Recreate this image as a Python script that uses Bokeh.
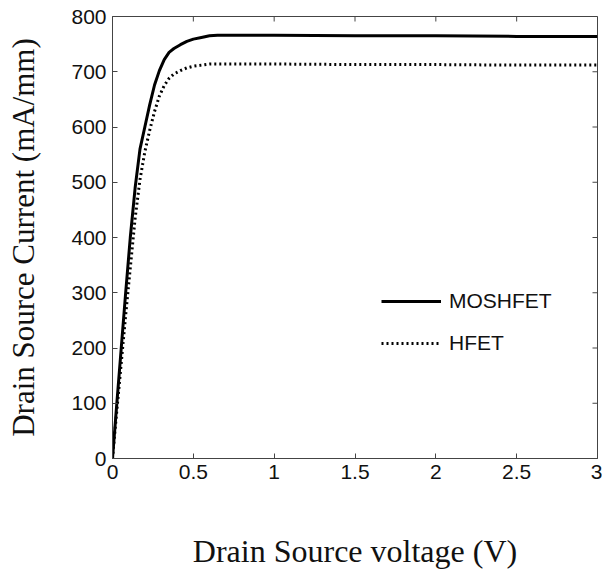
from bokeh.plotting import figure
from bokeh.models import (LinearAxis, FixedTicker, NumeralTickFormatter, Legend,
                          LegendItem)
from bokeh.embed import file_html
from bokeh.resources import INLINE

# Data
v_mos = [0, 0.02, 0.05, 0.08, 0.11, 0.14, 0.17, 0.20, 0.23, 0.26, 0.29, 0.32, 0.35,
         0.38, 0.42, 0.46, 0.50, 0.55, 0.60, 0.65, 0.70, 1.0, 1.5, 2.0, 2.5, 3.0]
i_mos = [0, 75, 185, 295, 400, 490, 560, 600, 640, 676, 702, 722, 735,
         742, 749, 755, 759, 762, 765, 766, 766, 766, 765, 765, 764, 764]
v_hfet = [0, 0.02, 0.05, 0.08, 0.11, 0.14, 0.17, 0.20, 0.23, 0.26, 0.29, 0.32, 0.35,
          0.38, 0.42, 0.46, 0.50, 0.55, 0.60, 0.65, 0.70, 1.0, 1.5, 2.0, 2.5, 3.0]
i_hfet = [0, 65, 160, 255, 345, 435, 505, 555, 594, 628, 656, 675, 688,
          696, 702, 707, 710, 712, 714, 714, 714, 714, 713, 713, 712, 712]
x_ticks = [0, 0.5, 1, 1.5, 2, 2.5, 3]
y_ticks = [0, 100, 200, 300, 400, 500, 600, 700, 800]
series_names = ["MOSHFET", "HFET"]
x_title = "Drain Source voltage (V)"
y_title = "Drain Source Current (mA/mm)"

X_MAX, Y_MAX = 3, 800
AX = "#444444"

p = figure(width=602, height=576, x_range=(0, X_MAX), y_range=(0, Y_MAX),
           output_backend="svg", toolbar_location=None,
           x_axis_location=None, y_axis_location=None,
           min_border_left=112, min_border_right=5, min_border_top=16,
           min_border_bottom=118)
p.grid.visible = False
p.outline_line_color = AX
p.outline_line_width = 1
p.background_fill_color = "white"
p.border_fill_color = "white"

def make_axis(ticks, title, standoff, size):
    ax = LinearAxis(ticker=FixedTicker(ticks=ticks),
                    formatter=NumeralTickFormatter(format="0.[0]"))
    ax.axis_line_color = AX
    ax.major_tick_line_color = AX
    ax.major_tick_in = 5
    ax.major_tick_out = 0
    ax.minor_tick_line_color = None
    ax.major_label_text_font = "Liberation Sans"
    ax.major_label_text_font_size = "21px"
    ax.major_label_text_color = "#111111"
    ax.major_label_standoff = 6
    ax.axis_label = title
    ax.axis_label_standoff = standoff
    ax.axis_label_text_font = "Liberation Serif"
    ax.axis_label_text_font_size = size
    ax.axis_label_text_font_style = "normal"
    ax.axis_label_text_color = "#111111"
    return ax

p.add_layout(make_axis(x_ticks, x_title, 51, "32px"), "below")
p.add_layout(make_axis(y_ticks, y_title, 27, "31px"), "left")

# inward ticks on the top and right edges of the box (5 px long)
tick_dy = 5 * Y_MAX / 442.0
tick_dx = 5 * X_MAX / 485.0
p.segment(x0=x_ticks, y0=[Y_MAX] * len(x_ticks), x1=x_ticks,
          y1=[Y_MAX - tick_dy] * len(x_ticks), line_color=AX, line_width=1)
p.segment(x0=[X_MAX] * len(y_ticks), y0=y_ticks, x1=[X_MAX - tick_dx] * len(y_ticks),
          y1=y_ticks, line_color=AX, line_width=1)

r1 = p.line(v_mos, i_mos, line_color="black", line_width=3)
r2 = p.line(v_hfet, i_hfet, line_color="black", line_width=3, line_dash="2 3")

legend = Legend(items=[LegendItem(label=series_names[0], renderers=[r1]),
                       LegendItem(label=series_names[1], renderers=[r2])],
                location=(269, 103), orientation="vertical")
legend.border_line_color = None
legend.background_fill_alpha = 0
legend.padding = 0
legend.margin = 0
legend.spacing = 18
legend.glyph_width = 60
legend.glyph_height = 20
legend.label_height = 20
legend.label_standoff = 8
legend.label_text_font = "Liberation Sans"
legend.label_text_font_size = "21px"
legend.label_text_color = "#111111"
p.add_layout(legend, "center")

open("out.html", "w").write(file_html(p, INLINE))
